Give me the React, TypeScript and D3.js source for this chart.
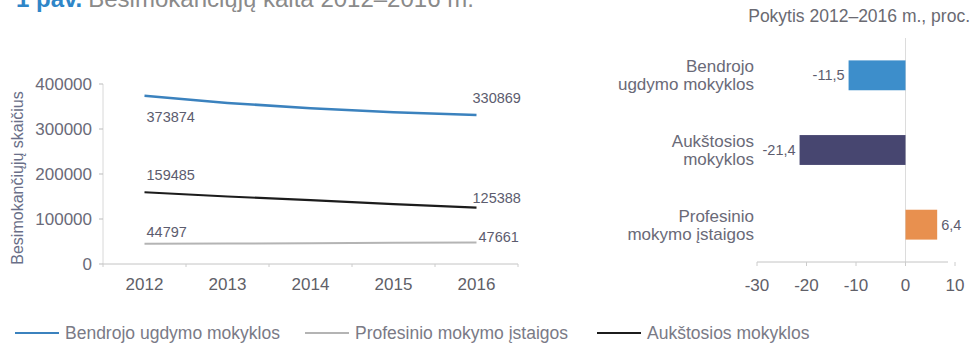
import React from "react";
import * as d3 from "d3";

const years = [2012, 2013, 2014, 2015, 2016];
const bendrojo = [373874, 358000, 346000, 337000, 330869];
const aukstosios = [159485, 150000, 142000, 133000, 125388];
const profesinio = [44797, 45500, 46300, 47000, 47661];
const yTicks = [0, 100000, 200000, 300000, 400000];

const barCategories = [
  ["Bendrojo", "ugdymo mokyklos"],
  ["Aukštosios", "mokyklos"],
  ["Profesinio", "mokymo įstaigos"],
];
const barValues = [-11.5, -21.4, 6.4];
const barTicks = [-30, -20, -10, 0, 10];

const legendLabels = ["Bendrojo ugdymo mokyklos", "Profesinio mokymo įstaigos", "Aukštosios mokyklos"];

const FONT = "'Liberation Sans', Arial, sans-serif";
const C_BLUE = "#3b82be";
const C_BLACK = "#1c1c1c";
const C_GRAY = "#b4b4b4";
const C_TEXT = "#6a6a78";

export default function App() {
  // left line chart
  const x = d3.scalePoint<number>().domain(years).range([103, 518]).padding(0.5);
  const y = d3.scaleLinear().domain([0, 400000]).range([264, 84]);
  const line = d3
    .line<number>()
    .x((_, i) => x(years[i])!)
    .y((d) => y(d));

  const series = [
    { name: legendLabels[0], data: bendrojo, color: C_BLUE, w: 2.5, startDy: 26, endDy: -12, endDx: -4 },
    { name: legendLabels[2], data: aukstosios, color: C_BLACK, w: 2.2, startDy: -12, endDy: -5, endDx: -4 },
    { name: legendLabels[1], data: profesinio, color: C_GRAY, w: 2, startDy: -7, endDy: -1, endDx: 2 },
  ];

  // right bar chart
  const bx = d3.scaleLinear().domain([-30, 10]).range([757, 955]);
  const by = d3
    .scaleBand<number>()
    .domain(barValues.map((_, i) => i))
    .range([38, 262])
    .paddingInner(0.6)
    .paddingOuter(0.3);
  const barColors = ["#3d8ecb", "#474670", "#e8904f"];
  const fmt = (v: number) => String(v).replace(".", ",");

  const bandStep = x.step();
  const boundaries = years.map((yr) => x(yr)! - bandStep / 2).concat([x(2016)! + bandStep / 2]);

  return (
    <div style={{ position: "fixed", left: 0, top: 0 }}>
      <svg width={971} height={343} style={{ display: "block", background: "#fff" }} fontFamily={FONT}>
        {/* title (cut off at top) */}
        <text x={16} y={7} fontSize={24}>
          <tspan fill="#2f86c8" fontWeight="bold">1 pav.</tspan>
          <tspan fill="#8a8a8a" dx={6}>Besimokančiųjų kaita 2012–2016 m.</tspan>
        </text>

        {/* y axis label */}
        <text
          transform="translate(23,178) rotate(-90)"
          textAnchor="middle"
          fontSize={16}
          fill="#6a6f88"
        >
          Besimokančiųjų skaičius
        </text>

        {/* y axis */}
        <line x1={103} x2={103} y1={y(400000)} y2={y(0)} stroke="#d8d8d8" />
        {yTicks.map((t) => (
          <g key={t}>
            <line x1={99} x2={103} y1={y(t)} y2={y(t)} stroke="#bbb" />
            <text x={92} y={y(t)} dy="0.35em" textAnchor="end" fontSize={17} fill={C_TEXT}>
              {t}
            </text>
          </g>
        ))}

        {/* x axis */}
        <line x1={103} x2={518} y1={y(0)} y2={y(0)} stroke="#c4c4c4" />
        {boundaries.map((b, i) => (
          <line key={i} x1={b} x2={b} y1={y(0)} y2={y(0) + 3} stroke="#ccc" />
        ))}
        {years.map((yr) => (
          <text key={yr} x={x(yr)} y={290} textAnchor="middle" fontSize={17} fill="#606068">
            {yr}
          </text>
        ))}

        {/* lines */}
        {series.map((s) => (
          <path key={s.name} d={line(s.data)!} fill="none" stroke={s.color} strokeWidth={s.w} />
        ))}
        {series.map((s) => (
          <g key={s.name + "l"} fontSize={14.5} fill="#5c5c6e">
            <text x={x(years[0])! + 2} y={y(s.data[0]) + s.startDy}>
              {s.data[0]}
            </text>
            <text x={x(years[4])! + s.endDx} y={y(s.data[4]) + s.endDy}>
              {s.data[4]}
            </text>
          </g>
        ))}

        {/* right chart title */}
        <text x={970} y={22} textAnchor="end" fontSize={17.5} fill="#6a6a72">
          Pokytis 2012–2016 m., proc.
        </text>

        {/* bar chart */}
        <line x1={bx(0)} x2={bx(0)} y1={38} y2={262} stroke="#dcdcdc" />
        {barValues.map((v, i) => {
          const yy = by(i)!;
          const h = by.bandwidth();
          const x0 = Math.min(bx(0), bx(v));
          const w = Math.abs(bx(v) - bx(0));
          const cy = yy + h / 2;
          return (
            <g key={i}>
              <rect x={x0} y={yy} width={w} height={h} fill={barColors[i]} />
              <text
                x={v < 0 ? bx(v) - 4 : bx(v) + 4}
                y={cy}
                dy="0.35em"
                textAnchor={v < 0 ? "end" : "start"}
                fontSize={14.5}
                fill="#5c5c6e"
              >
                {fmt(v)}
              </text>
              <text x={754} y={cy - 3} textAnchor="end" fontSize={17} fill={C_TEXT}>
                {barCategories[i][0]}
              </text>
              <text x={754} y={cy + 15} textAnchor="end" fontSize={17} fill={C_TEXT}>
                {barCategories[i][1]}
              </text>
            </g>
          );
        })}
        <line x1={bx(-30)} x2={948} y1={262} y2={262} stroke="#c4c4c4" />
        {barTicks.map((t) => (
          <g key={t}>
            <line x1={bx(t)} x2={bx(t)} y1={262} y2={266} stroke="#ccc" />
            <text x={bx(t)} y={291} textAnchor="middle" fontSize={17} fill="#606068">
              {t}
            </text>
          </g>
        ))}

        {/* legend */}
        {[
          { label: legendLabels[0], color: C_BLUE, x: 15 },
          { label: legendLabels[1], color: C_GRAY, x: 305 },
          { label: legendLabels[2], color: C_BLACK, x: 597 },
        ].map((l) => (
          <g key={l.label}>
            <line x1={l.x} x2={l.x + 44} y1={333} y2={333} stroke={l.color} strokeWidth={2} />
            <text x={l.x + 50} y={333} dy="0.35em" fontSize={17.5} fill="#7a7a86">
              {l.label}
            </text>
          </g>
        ))}
      </svg>
    </div>
  );
}
